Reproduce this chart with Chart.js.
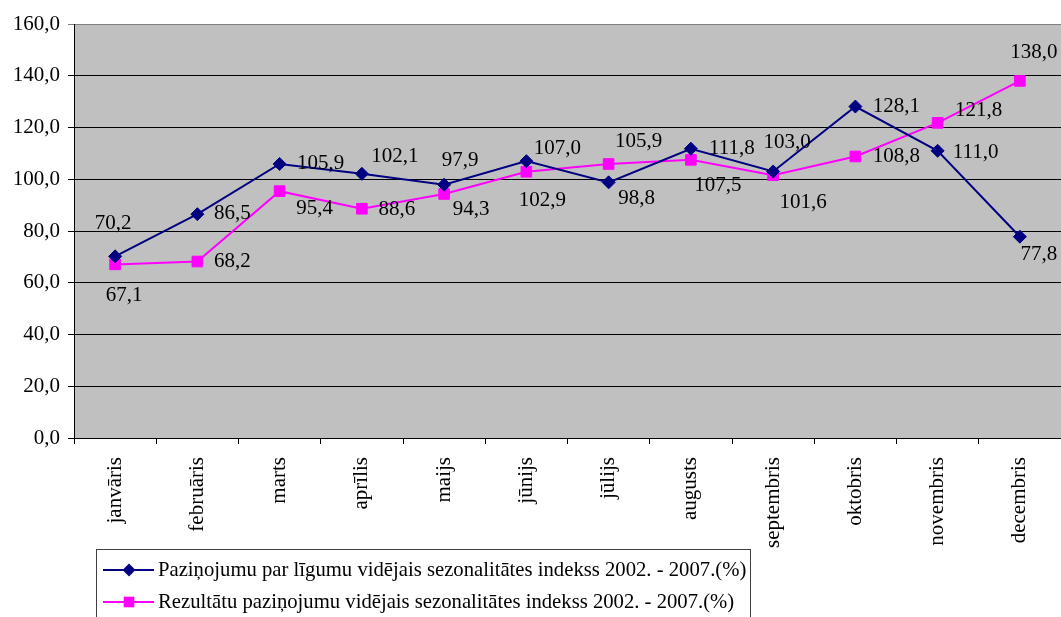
<!DOCTYPE html>
<html lang="lv">
<head>
<meta charset="UTF-8">
<title>Sezonalitātes indekss</title>
<style>
  html, body { margin: 0; padding: 0; background: #fff; }
  #wrap { position: relative; width: 1061px; height: 617px; }
</style>
</head>
<body>
<div id="wrap"><canvas id="chart" width="1061" height="617"></canvas></div>
<script src="https://cdn.jsdelivr.net/npm/chart.js"></script>
<script>
// data
var months = ["janvāris", "februāris", "marts", "aprīlis", "maijs", "jūnijs",
              "jūlijs", "augusts", "septembris", "oktobris", "novembris", "decembris"];
var ligumi = [70.2, 86.5, 105.9, 102.1, 97.9, 107.0, 98.8, 111.8, 103.0, 128.1, 111.0, 77.8];
var rezultati = [67.1, 68.2, 95.4, 88.6, 94.3, 102.9, 105.9, 107.5, 101.6, 108.8, 121.8, 138.0];
var yTicks = [0, 20, 40, 60, 80, 100, 120, 140, 160];
var seriesNames = [
  "Paziņojumu par līgumu vidējais sezonalitātes indekss 2002. - 2007.(%)",
  "Rezultātu paziņojumu vidējais sezonalitātes indekss 2002. - 2007.(%)"
];

// where each value label sits relative to its marker (dx, dy)
var ligumiLabelPos = [[-2,-33],[35,-1],[41,0],[33,-17],[16,-24],[31,-13],[28,16],[41,0],[14,-29],[41,0],[38,2],[19,18]];
var rezLabelPos = [[9,31],[35,0],[35,17],[35,1],[27,15],[16,29],[30,-22],[27,26],[30,27],[41,0],[41,-12],[14,-28]];

var serif = "'Liberation Serif', 'Times New Roman', serif";
var fmt = function (v) { return Number(v).toFixed(1).replace(".", ","); };

var plotBg = {
  id: "plotBg",
  beforeDraw: function (chart) {
    var a = chart.chartArea, ctx = chart.ctx;
    ctx.save();
    ctx.fillStyle = "#c0c0c0";
    ctx.fillRect(a.left, a.top, a.right - a.left, a.bottom - a.top);
    ctx.restore();
  }
};

var valueLabels = {
  id: "valueLabels",
  afterDatasetsDraw: function (chart) {
    var ctx = chart.ctx;
    var pos = [ligumiLabelPos, rezLabelPos];
    ctx.save();
    ctx.font = "21px " + serif;
    ctx.fillStyle = "#000";
    ctx.textAlign = "center";
    ctx.textBaseline = "middle";
    chart.data.datasets.forEach(function (ds, i) {
      chart.getDatasetMeta(i).data.forEach(function (pt, j) {
        ctx.fillText(fmt(ds.data[j]), pt.x + pos[i][j][0], pt.y + pos[i][j][1]);
      });
    });
    ctx.restore();
  }
};

var boxLegend = {
  id: "boxLegend",
  afterDraw: function (chart) {
    var ctx = chart.ctx;
    ctx.save();
    ctx.strokeStyle = "#404040";
    ctx.lineWidth = 1;
    ctx.strokeRect(96.5, 549.5, 654, 90);
    ctx.font = "20.7px " + serif;
    ctx.textBaseline = "middle";
    ctx.textAlign = "left";
    var rows = [570, 602];
    chart.data.datasets.forEach(function (ds, i) {
      var y = rows[i];
      ctx.strokeStyle = ds.borderColor;
      ctx.lineWidth = 2;
      ctx.beginPath();
      ctx.moveTo(103, y);
      ctx.lineTo(154, y);
      ctx.stroke();
      ctx.fillStyle = ds.pointBackgroundColor;
      ctx.beginPath();
      if (ds.pointStyle === "rect") {
        var s = ds.pointRadius * Math.SQRT1_2;
        ctx.fillRect(129 - s, y - s, 2 * s, 2 * s);
      } else {
        var r = ds.pointRadius;
        ctx.moveTo(129, y - r); ctx.lineTo(129 + r, y); ctx.lineTo(129, y + r); ctx.lineTo(129 - r, y);
        ctx.closePath(); ctx.fill();
      }
      ctx.fillStyle = "#000";
      ctx.fillText(seriesNames[i], 158, y + 1);
    });
    ctx.restore();
  }
};

new Chart(document.getElementById("chart"), {
  type: "line",
  data: {
    labels: months,
    datasets: [{
      label: seriesNames[0],
      data: ligumi,
      borderColor: "#000080",
      backgroundColor: "#000080",
      pointBackgroundColor: "#000080",
      pointBorderColor: "#000080",
      pointStyle: "rectRot",
      pointRadius: 6.5,
      pointBorderWidth: 1,
      borderWidth: 2,
      tension: 0
    }, {
      label: seriesNames[1],
      data: rezultati,
      borderColor: "#ff00ff",
      backgroundColor: "#ff00ff",
      pointBackgroundColor: "#ff00ff",
      pointBorderColor: "#ff00ff",
      pointStyle: "rect",
      pointRadius: 7.5,
      pointBorderWidth: 1,
      borderWidth: 2,
      tension: 0
    }]
  },
  options: {
    responsive: false,
    animation: false,
    layout: { autoPadding: false, padding: { top: 24, right: 0, bottom: 0, left: 0 } },
    plugins: {
      legend: { display: false },
      tooltip: { enabled: false }
    },
    scales: {
      x: {
        offset: true,
        afterFit: function (s) { s.height = 179; s.paddingLeft = 0; s.paddingRight = 0; },
        grid: { offset: true, drawOnChartArea: false, drawTicks: true, tickLength: 6, color: "#000" },
        border: { display: true, color: "#000", width: 1 },
        ticks: {
          color: "#000",
          font: { family: serif, size: 21 },
          minRotation: 90, maxRotation: 90,
          padding: 13,
          autoSkip: false
        }
      },
      y: {
        min: 0, max: 160,
        afterFit: function (s) { s.width = 74; },
        afterBuildTicks: function (s) { s.ticks = yTicks.map(function (v) { return { value: v }; }); },
        grid: {
          color: function (c) { return c.tick && c.tick.value === 160 ? "#808080" : "#000"; },
          lineWidth: 1,
          tickLength: 6
        },
        border: { display: true, color: "#000", width: 1 },
        ticks: {
          color: "#000",
          font: { family: serif, size: 21 },
          padding: 8,
          callback: function (v) { return fmt(v); }
        }
      }
    }
  },
  plugins: [plotBg, valueLabels, boxLegend]
});
</script>
</body>
</html>
